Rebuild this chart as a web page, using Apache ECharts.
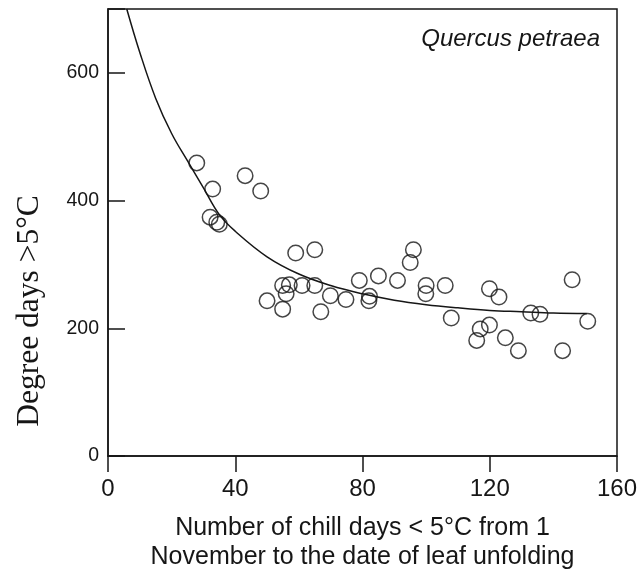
<!DOCTYPE html>
<html>
<head>
<meta charset="utf-8">
<script src="https://cdn.jsdelivr.net/npm/echarts@6/dist/echarts.min.js"></script>
<style>html,body{margin:0;padding:0;background:#fff;}#c{width:643px;height:577px;}</style>
</head>
<body>
<div id="c"></div>
<script>
// Observed points: chill days (x) vs degree days > 5°C (y)
const chillDays = [27.9, 32.9, 43.1, 48.0, 32.1, 34.2, 35.0, 59.0, 65.0, 54.9, 57.0, 61.0, 65.0, 56.0, 50.0, 54.9, 66.9, 69.9, 74.8,
  79.0, 85.0, 82.2, 82.0, 91.0, 96.0, 95.0, 100.0, 99.9, 106.0, 107.9, 119.9, 122.9, 117.0, 119.9, 115.9, 124.9, 129.0, 132.9, 135.8, 145.9, 142.9, 150.8];
const degreeDays = [459, 418, 439, 415, 374, 366, 363, 318, 323, 267, 268, 267, 267, 254, 243, 230, 226, 251, 245,
  275, 282, 250, 243, 275, 323, 303, 267, 254, 267, 216, 262, 249, 199, 205, 181, 185, 165, 224, 222, 276, 165, 211];
// Fitted curve
const curveX = [5.9, 10, 15, 20, 25, 30, 35, 40, 50, 60, 70, 80, 90, 100, 110, 120, 130, 140, 150.5];
const curveY = [700, 632, 560, 505, 462, 420, 378, 352, 312, 285, 267, 254, 244, 237, 232, 228, 226, 224, 223];
const xTicks = [0, 40, 80, 120, 160];
const yTicks = [0, 200, 400, 600];
const yTitle = 'Degree days >5°C';
const xTitle = 'Number of chill days < 5°C from 1\nNovember to the date of leaf unfolding';
const panelTitle = 'Quercus petraea';

const chart = echarts.init(document.getElementById('c'), null, {renderer: 'canvas'});
const ink = '#161616';
const axisLine = {show: true, lineStyle: {color: ink, width: 1.5}};
chart.setOption({
  animation: false,
  backgroundColor: '#fff',
  title: {
    text: panelTitle,
    right: 43, top: 27, padding: 0,
    textStyle: {fontFamily: 'Liberation Sans', fontStyle: 'italic', fontWeight: 'normal', fontSize: 24, color: ink}
  },
  graphic: [{
    type: 'text', x: 30, y: 311, rotation: Math.PI / 2,
    style: {text: yTitle, font: '31.5px "Liberation Serif"', fill: ink, textAlign: 'center', textVerticalAlign: 'middle'}
  }],
  grid: {left: 108, right: 26, top: 9, bottom: 116, show: true, borderColor: ink, borderWidth: 1.5, backgroundColor: 'transparent'},
  xAxis: {
    type: 'value', min: xTicks[0], max: xTicks[xTicks.length - 1], interval: 40,
    axisLine: axisLine,
    axisTick: {show: true, inside: false, length: 16, lineStyle: {color: ink, width: 1.5}},
    axisLabel: {margin: 21.5, fontFamily: 'Liberation Sans', fontSize: 24, color: ink},
    splitLine: {show: false},
    name: xTitle,
    nameLocation: 'middle', nameGap: 58,
    nameTextStyle: {fontFamily: 'Liberation Sans', fontSize: 25, color: ink, lineHeight: 29}
  },
  yAxis: {
    type: 'value', min: yTicks[0], max: 700, interval: 200,
    axisLine: axisLine,
    axisTick: {show: true, inside: true, length: 17, lineStyle: {color: ink, width: 1.5}},
    axisLabel: {margin: 9, fontFamily: 'Liberation Sans', fontSize: 19.5, color: ink,
      formatter: v => (yTicks.indexOf(v) >= 0 ? String(v) : '')},
    splitLine: {show: false}
  },
  series: [
    {
      type: 'line', data: curveX.map((x, i) => [x, curveY[i]]),
      smooth: 0.4, showSymbol: false, symbol: 'none',
      lineStyle: {color: ink, width: 1.5}, z: 2
    },
    {
      type: 'scatter', data: chillDays.map((x, i) => [x, degreeDays[i]]),
      symbol: 'circle', symbolSize: 15.5,
      itemStyle: {color: 'rgba(255,255,255,0)', borderColor: ink, borderWidth: 1.5}, z: 3
    }
  ]
});
</script>
</body>
</html>
